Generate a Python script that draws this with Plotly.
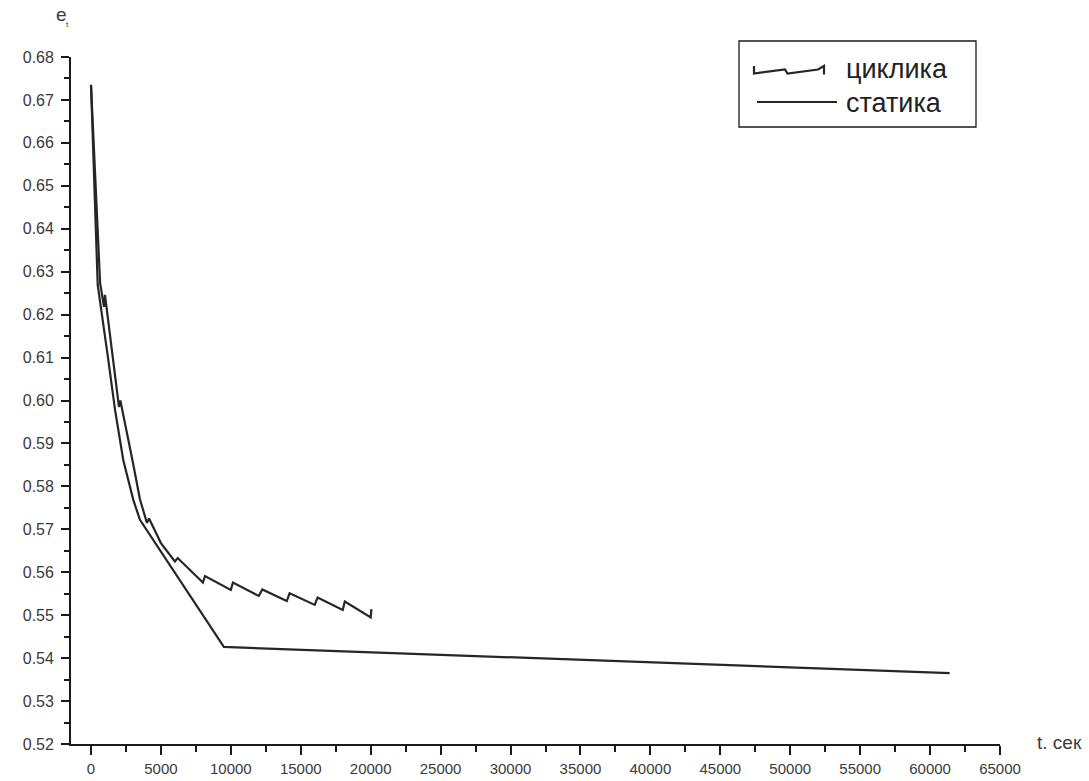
import plotly.graph_objects as go

# Cyclic loading: void ratio vs time, with the small recovery jump after each cycle
cyclic_t = [0, 650, 930, 1000, 2000, 2100, 3000, 3500, 4000, 4150, 5000,
            6000, 6200, 8000, 8150, 10000, 10150, 12000, 12250, 14000, 14200,
            16000, 16200, 18000, 18150, 20000, 20050]
cyclic_e = [0.6735, 0.6274, 0.6218, 0.6246, 0.5985, 0.6000, 0.5855, 0.5770,
            0.5715, 0.5725, 0.5668,
            0.5625, 0.5633, 0.5576, 0.5591, 0.5559, 0.5576, 0.5545, 0.5560,
            0.5533, 0.5551, 0.5524, 0.5541, 0.5512, 0.5532, 0.5495, 0.5514]

# Static loading
static_t = [0, 480, 1240, 1720, 2310, 3030, 3500, 9500, 61400]
static_e = [0.6735, 0.6269, 0.6094, 0.5978, 0.5861, 0.5768, 0.5722, 0.5426, 0.5365]

x_ticks = list(range(0, 65001, 5000))
x_labels = [str(v) for v in x_ticks]
y_ticks = [round(0.52 + 0.01 * i, 2) for i in range(17)]
y_labels = [f"{v:.2f}" for v in y_ticks]

W, H = 1089, 781
L, R, T, B = 71, 1000, 57, 744          # plot area in pixels

LINE = "#262626"
TEXT = "#3a3a3a"
FONT = "Liberation Sans, Arial, sans-serif"


def px(x):
    return (x - L) / (R - L)


def py(y):
    return (B - y) / (B - T)


fig = go.Figure()
fig.add_trace(go.Scatter(x=cyclic_t, y=cyclic_e, mode="lines", name="циклика",
                         line=dict(color=LINE, width=2.2)))
fig.add_trace(go.Scatter(x=static_t, y=static_e, mode="lines", name="статика",
                         line=dict(color=LINE, width=2.2)))

axis_common = dict(showgrid=False, zeroline=False, showline=True,
                   automargin=False,
                   linecolor="#1a1a1a", linewidth=1.8, ticks="outside",
                   tickcolor="#1a1a1a", tickwidth=1.6)

fig.update_xaxes(range=[-1430, 65000], tickvals=x_ticks, ticktext=x_labels,
                 ticklen=9, ticklabelstandoff=1,
                 tickfont=dict(family=FONT, size=15, color=TEXT),
                 minor=dict(dtick=2500, tick0=0, ticks="outside", ticklen=6,
                            tickcolor="#1a1a1a", tickwidth=1.6),
                 **axis_common)
fig.update_yaxes(range=[0.52, 0.68], tickvals=y_ticks, ticktext=y_labels,
                 ticklen=8, ticklabelstandoff=4,
                 tickfont=dict(family=FONT, size=16, color=TEXT),
                 minor=dict(dtick=0.005, tick0=0.52, ticks="outside", ticklen=5,
                            tickcolor="#1a1a1a", tickwidth=1.6),
                 **axis_common)

# Legend drawn by hand so the cyclic entry gets a saw-tooth key
saw = [(754, 66), (754, 73.5), (785, 69.5), (787.5, 73.5), (818, 69.5),
       (824, 66), (824, 74.5)]
saw_path = "M " + " L ".join(f"{px(a):.5f},{py(b):.5f}" for a, b in saw)
shapes = [
    dict(type="rect", xref="paper", yref="paper",
         x0=px(739), x1=px(976), y0=py(127), y1=py(41),
         line=dict(color="#1a1a1a", width=1.3), fillcolor="white", layer="below"),
    dict(type="path", xref="paper", yref="paper", path=saw_path,
         line=dict(color=LINE, width=2.2)),
    dict(type="line", xref="paper", yref="paper",
         x0=px(757), x1=px(837), y0=py(102), y1=py(102),
         line=dict(color=LINE, width=2.2)),
]

annotations = [
    dict(text="циклика", xref="paper", yref="paper", x=px(844), y=py(69),
         xanchor="left", yanchor="middle", showarrow=False,
         font=dict(family=FONT, size=27, color="#222")),
    dict(text="статика", xref="paper", yref="paper", x=px(844), y=py(103),
         xanchor="left", yanchor="middle", showarrow=False,
         font=dict(family=FONT, size=27, color="#222")),
    dict(text="e", xref="paper", yref="paper", x=px(54), y=py(14),
         xanchor="left", yanchor="middle", showarrow=False,
         font=dict(family=FONT, size=19, color=TEXT)),
    dict(text="t", xref="paper", yref="paper", x=px(64), y=py(24),
         xanchor="left", yanchor="middle", showarrow=False,
         font=dict(family=FONT, size=8, color=TEXT)),
    dict(text="t. сек", xref="paper", yref="paper", x=px(1035), y=py(742),
         xanchor="left", yanchor="middle", showarrow=False,
         font=dict(family=FONT, size=19, color=TEXT)),
]

fig.update_layout(width=W, height=H, showlegend=False,
                  margin=dict(l=L, r=W - R, t=T, b=H - B, pad=0),
                  plot_bgcolor="white", paper_bgcolor="white",
                  shapes=shapes, annotations=annotations)

fig.write_html("out.html")
